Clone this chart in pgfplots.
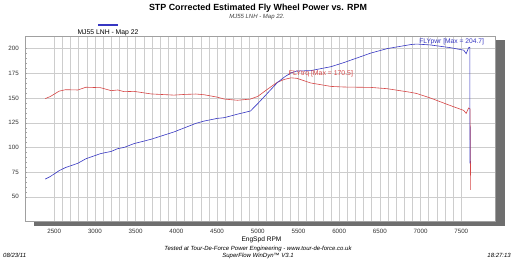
\documentclass[border=0pt]{standalone}
\usepackage{pgfplots}
\pgfplotsset{compat=1.18}
\usepackage{fontspec}
\setmainfont{Liberation Sans}

\definecolor{pwrblue}{RGB}{55,55,195}
\definecolor{trqred}{RGB}{215,70,70}
\definecolor{gridgray}{RGB}{205,205,205}
\definecolor{framegray}{RGB}{160,160,160}
\definecolor{shadowgray}{RGB}{110,110,110}

% Flywheel torque (lb-ft) against engine speed
\pgfplotstableread{
rpm   trq
2390  149.5
2450  151.5
2560  157.0
2640  158.5
2790  158.2
2890  161.0
3070  160.5
3200  157.5
3280  158.2
3360  156.5
3480  156.8
3690  154.2
3970  153.0
4100  153.7
4240  154.1
4340  153.4
4500  151.0
4590  149.0
4750  147.8
4910  149.0
5000  151.7
5120  159.0
5240  166.0
5330  169.0
5410  170.5
5480  170.0
5650  165.3
5900  161.8
6060  161.2
6390  160.8
6590  159.5
6880  155.8
6950  154.7
7120  150.1
7370  142.3
7530  137.5
7560  134.5
7590  140.0
7608  139.0
7615  57.0
}\trqdata

% Flywheel power (hp) against engine speed
\pgfplotstableread{
rpm   pwr
2390  68.0
2450  70.5
2560  76.5
2640  79.7
2790  84.0
2890  88.6
3070  93.8
3200  96.0
3280  98.8
3360  100.1
3480  103.9
3690  108.3
3970  115.7
4100  119.9
4240  124.4
4340  126.7
4500  129.4
4590  130.2
4750  133.7
4910  136.9
5000  144.4
5120  155.0
5240  165.6
5330  171.5
5410  175.6
5480  177.4
5650  177.8
5900  181.8
6060  186.0
6390  195.6
6590  200.1
6880  204.2
6950  204.7
7120  203.8
7370  201.0
7530  198.5
7560  195.0
7590  201.0
7605  201.5
7607  84.0
}\pwrdata

\begin{document}
\begin{tikzpicture}[x=1pt,y=1pt]
\path[use as bounding box] (0,0) rectangle (515,-260);

% titles
\node[font=\bfseries\fontsize{8.9}{10}\selectfont] at (258,-8.5) {STP Corrected Estimated Fly Wheel Power vs. RPM};
\node[font=\itshape\fontsize{6}{7}\selectfont, text=black!75] at (257,-17) {MJ55 LNH - Map 22.};

% run legend
\draw[pwrblue, line width=1.4pt] (98,-25) -- (118,-25);
\node[font=\fontsize{6.8}{7.5}\selectfont] at (108,-33) {MJ55 LNH - Map 22};

% drop shadow of the plot frame
\fill[shadowgray] (34,-40) rectangle (504.5,-225.5);

\begin{axis}[
  at={(31,-37)}, anchor=north west,
  scale only axis, width=470pt, height=185pt,
  xmin=2144, xmax=7917, ymin=25, ymax=212.3,
  axis background/.style={fill=white},
  axis line style={framegray, line width=0.5pt},
  xtick={2500,3000,...,7500},
  minor x tick num=4,
  ytick={50,75,...,200},
  minor y tick num=4,
  xmajorgrids=true, xminorgrids=true, ymajorgrids=true,
  major grid style={gridgray, line width=0.5pt},
  minor grid style={gridgray, line width=0.5pt},
  xtick style={draw=none},
  ytick style={framegray, line width=0.4pt},
  major tick length=2pt, minor tick length=1.5pt,
  tick pos=left, tick align=inside,
  /pgf/number format/assume math mode=true,
  /pgf/number format/1000 sep={},
  ticklabel style={font=\fontsize{6.2}{7}\selectfont, text=black!80},
  xticklabel style={yshift=-4pt},
  yticklabel style={xshift=-3pt},
  clip=false,
]
\addplot[trqred, line width=0.6pt] table[x=rpm, y=trq] {\trqdata};
\addplot[pwrblue, line width=0.6pt] table[x=rpm, y=pwr] {\pwrdata};
\node[anchor=east, inner sep=0pt, text=pwrblue, font=\fontsize{6.7}{7.5}\selectfont] at (axis cs:7782,207.1) {FLYpwr [Max = 204.7]};
\node[anchor=west, inner sep=0pt, text=trqred, font=\fontsize{6.9}{7.5}\selectfont] at (axis cs:5380,174.7) {FLYtrq [Max = 170.5]};
\end{axis}

% footer
\node[font=\fontsize{6.6}{7.5}\selectfont] at (261.5,-239.5) {EngSpd RPM};
\node[font=\itshape\fontsize{6}{7}\selectfont] at (258,-249) {Tested at Tour-De-Force Power Engineering - www.tour-de-force.co.uk};
\node[font=\itshape\fontsize{6}{7}\selectfont] at (258,-255.5) {SuperFlow WinDyn™ V3.1};
\node[anchor=west, font=\itshape\fontsize{6}{7}\selectfont, inner sep=0pt] at (3,-255.5) {08/23/11};
\node[anchor=east, font=\itshape\fontsize{6}{7}\selectfont, inner sep=0pt] at (511,-255.5) {18:27:13};
\end{tikzpicture}
\end{document}
